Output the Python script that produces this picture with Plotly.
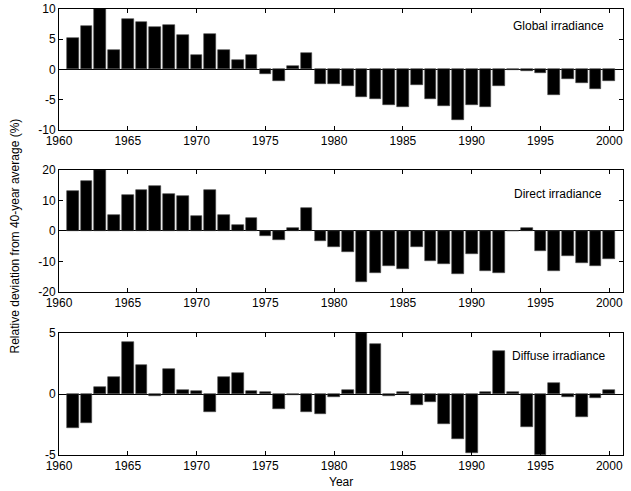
import plotly.graph_objects as go

years = list(range(1961, 2001))

global_irr = [5.25, 7.2, 10.0, 3.2, 8.35, 7.8, 7.1, 7.35, 5.75, 2.4,
              5.9, 3.2, 1.55, 2.4, -0.7, -2.0, 0.5, 2.75, -2.35, -2.35,
              -2.75, -4.5, -4.85, -5.9, -6.25, -2.6, -4.85, -6.1, -8.45, -5.9,
              -6.25, -2.75, -0.15, -0.25, -0.6, -4.2, -1.6, -2.2, -3.25, -2.0]

direct_irr = [13.2, 16.3, 20.0, 5.35, 11.7, 13.5, 14.7, 12.2, 11.4, 4.8,
              13.5, 5.35, 2.0, 4.25, -1.5, -2.95, 1.0, 7.5, -3.3, -5.1,
              -7.0, -16.8, -13.7, -11.4, -12.5, -5.1, -9.8, -10.7, -14.1, -7.5,
              -13.2, -13.8, 0.0, 1.1, -6.7, -13.2, -8.1, -10.4, -11.6, -9.1]

diffuse_irr = [-2.75, -2.35, 0.57, 1.42, 4.25, 2.38, -0.16, 2.05, 0.36, 0.22,
               -1.45, 1.42, 1.69, 0.22, 0.14, -1.26, -0.11, -1.45, -1.6, -0.25,
               0.33, 5.0, 4.1, -0.16, 0.14, -0.87, -0.66, -2.5, -3.65, -4.8,
               0.19, 3.55, 0.19, -2.68, -5.0, 0.9, -0.27, -1.9, -0.33, 0.33]

panel_labels = ["Global irradiance", "Direct irradiance", "Diffuse irradiance"]
y_ranges = [[-10, 10], [-20, 20], [-5, 5]]
y_ticks = [[-10, -5, 0, 5, 10], [-20, -10, 0, 10, 20], [-5, 0, 5]]
label_y = [7.2, 12.2, 3.1]
x_ticks = [1960, 1965, 1970, 1975, 1980, 1985, 1990, 1995, 2000]
x_title = "Year"
y_title = "Relative deviation from 40-year average (%)"

series = [global_irr, direct_irr, diffuse_irr]
domains = [[0.7294, 1.0], [0.3655, 0.639], [0.0, 0.2735]]

fig = go.Figure()
font = dict(family="Liberation Sans, Arial, sans-serif", size=12, color="black")

for i, vals in enumerate(series):
    n = i + 1
    xa = "x" if n == 1 else f"x{n}"
    ya = "y" if n == 1 else f"y{n}"
    fig.add_trace(go.Bar(
        x=years, y=vals, width=0.85,
        marker=dict(color="black", line=dict(color="#444", width=0.6)),
        xaxis=xa, yaxis=ya, showlegend=False,
    ))
    axkey = "xaxis" if n == 1 else f"xaxis{n}"
    aykey = "yaxis" if n == 1 else f"yaxis{n}"
    fig.layout[axkey] = dict(
        domain=[0, 1], anchor=ya, range=[1960, 2001],
        tickvals=x_ticks, ticktext=[str(t) for t in x_ticks],
        ticks="inside", ticklen=4, tickcolor="black",
        showline=True, linecolor="black", linewidth=1, mirror="ticks",
        showgrid=False, zeroline=False, tickfont=font, automargin=False,
    )
    fig.layout[aykey] = dict(
        domain=domains[i], anchor=xa, range=y_ranges[i],
        tickvals=y_ticks[i], ticktext=[str(t) for t in y_ticks[i]],
        ticks="inside", ticklen=4, tickcolor="black",
        showline=True, linecolor="black", linewidth=1, mirror="ticks",
        showgrid=False, zeroline=True, zerolinecolor="black", zerolinewidth=1,
        tickfont=font, automargin=False,
    )
    fig.add_annotation(
        x=1996.3, y=label_y[i], xref=xa, yref=ya,
        text=panel_labels[i], showarrow=False, font=font,
        xanchor="center", yanchor="middle",
    )

fig.add_annotation(
    x=1980.5, y=-0.06, xref="x3", yref="paper", text=x_title,
    showarrow=False, font=dict(family=font["family"], size=12, color="black"),
    xanchor="center", yanchor="middle",
)
fig.add_annotation(
    x=-0.078, y=0.49, xref="paper", yref="paper", text=y_title, textangle=-90,
    showarrow=False, font=dict(family=font["family"], size=12, color="black"),
    xanchor="center", yanchor="middle",
)

fig.update_layout(
    width=631, height=491,
    margin=dict(l=59, r=8, t=9, b=36),
    plot_bgcolor="white", paper_bgcolor="white",
    bargap=0,
)

fig.write_html(
    "out.html",
    config={"displayModeBar": False},
    post_script="document.body.style.margin='0';document.body.style.padding='0';",
)
